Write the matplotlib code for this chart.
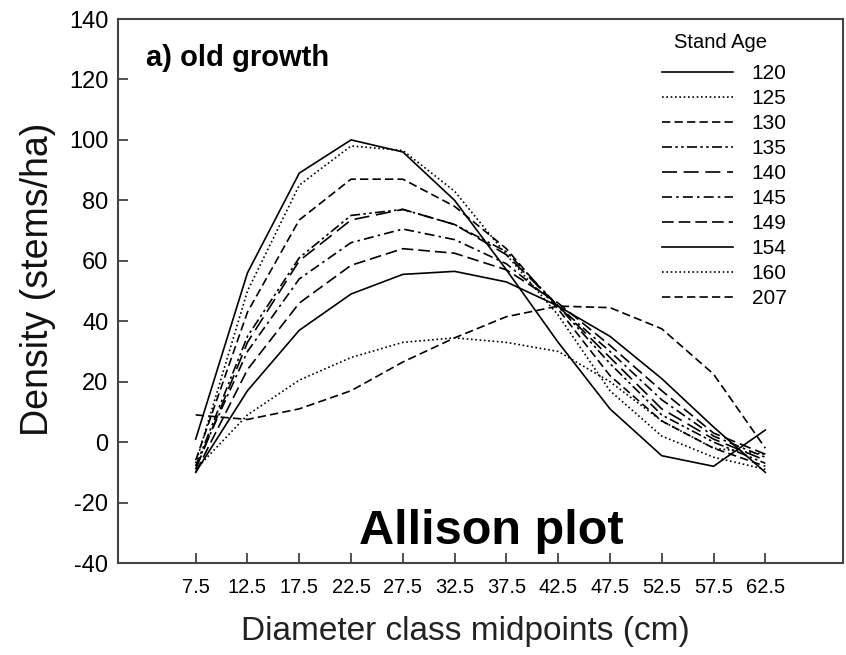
import numpy as np
import matplotlib
matplotlib.use("Agg")
import matplotlib.pyplot as plt

plt.rcParams["font.family"] = ["Liberation Sans", "DejaVu Sans"]
plt.rcParams["axes.unicode_minus"] = False

# diameter class midpoints (cm)
diam = [7.5, 12.5, 17.5, 22.5, 27.5, 32.5, 37.5, 42.5, 47.5, 52.5, 57.5, 62.5]
diam_labels = ["7.5", "12.5", "17.5", "22.5", "27.5", "32.5", "37.5",
               "42.5", "47.5", "52.5", "57.5", "62.5"]

# density (stems/ha) by stand age
age_120 = [1, 56, 89, 100, 96, 80, 57, 33, 11, -4.5, -8, 4]
age_125 = [-7, 50, 85, 98, 96.5, 83, 62, 42, 17, 2, -5, -9]
age_130 = [-6, 43, 73.5, 87, 87, 78, 64, 44, 22, 7, -2, -8]
age_135 = [-8, 35, 61, 75, 77, 72, 63, 45, 26, 9, 0, -7]
age_140 = [-9, 33, 60, 73.5, 77, 72, 62, 45, 28, 11, 1, -6]
age_145 = [-8, 30, 54, 66, 70.5, 67, 59, 45, 30, 14, 2, -5]
age_149 = [-10, 24, 46, 58.5, 64, 62.5, 57, 46, 32, 17, 3, -4]
age_154 = [-10, 17, 37, 49, 55.5, 56.5, 53, 45, 35, 21, 5, -10]
age_160 = [-9, 9, 20.5, 28, 33, 34.5, 33, 30, 20, 7, -2, -4]
age_207 = [9, 7.5, 11, 17, 26.5, 34.5, 41.5, 45, 44.5, 37.5, 22.5, -2]

ages = ["120", "125", "130", "135", "140", "145", "149", "154", "160", "207"]
series = [age_120, age_125, age_130, age_135, age_140,
          age_145, age_149, age_154, age_160, age_207]
styles = [
    "-",
    (0, (1, 1.6)),
    (0, (5, 2.5)),
    (0, (6, 2, 1.5, 2, 1.5, 2)),
    (0, (9, 4)),
    (0, (6, 2.5, 1.5, 2.5)),
    (0, (7, 3)),
    "-",
    (0, (1, 1.6)),
    (0, (5, 2.5)),
]

fig = plt.figure(figsize=(8.46, 6.55), dpi=100)
ax = fig.add_axes([118 / 846, 1 - 563 / 655, (843 - 118) / 846, (563 - 19) / 655])

for lab, vals, ls in zip(ages, series, styles):
    ax.plot(diam, vals, color="black", linestyle=ls, linewidth=1.2, label=lab)

ax.set_xlim(0, 70)
ax.set_ylim(-40, 140)
ax.set_xticks(diam)
ax.set_xticklabels(diam_labels)
ax.set_yticks(np.arange(-40, 141, 20))
ax.tick_params(direction="in", length=7, width=1.2, color="#333333")
ax.tick_params(axis="x", labelsize=14.5, pad=11)
ax.tick_params(axis="y", labelsize=17, pad=7)
for sp in ax.spines.values():
    sp.set_color("#444444")
    sp.set_linewidth(1.5)

ax.set_xlabel("Diameter class midpoints (cm)", fontsize=24, color="#222222", labelpad=10)
ax.xaxis.set_label_coords((465 - 118) / (843 - 118), -0.098)
ax.set_ylabel("Density (stems/ha)", fontsize=27, color="#111111", labelpad=9)
ax.yaxis.label.set_y(0.522)

ax.text(0.038, 0.929, "a) old growth", transform=ax.transAxes,
        fontsize=21, fontweight="bold", va="center", ha="left")

# legend entries, with the heading drawn as separate text above them
leg = ax.legend(loc="upper left", bbox_to_anchor=(662 / 846, 1 - 64 / 655),
                bbox_transform=fig.transFigure, frameon=False,
                fontsize=15, handlelength=3.4, handletextpad=0.9,
                labelspacing=0.29, borderpad=0, borderaxespad=0)
fig.text(720 / 846, 1 - 42 / 655, "Stand Age", fontsize=14.5, ha="center", va="center")

fig.text(491 / 846, 1 - 532 / 655, "Allison plot", fontsize=35, fontweight="bold",
         ha="center", va="center")

fig.savefig("out.png", dpi=100)
